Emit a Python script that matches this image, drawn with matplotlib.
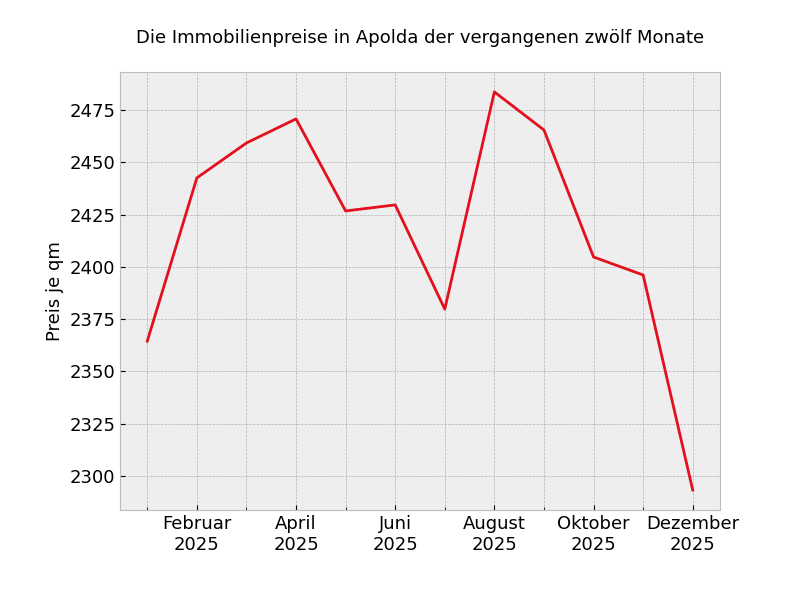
import matplotlib
matplotlib.use("Agg")
import matplotlib.pyplot as plt
from matplotlib.ticker import FixedLocator

month_labels = ["Januar\n2025", "Februar\n2025", "März\n2025", "April\n2025",
                "Mai\n2025", "Juni\n2025", "Juli\n2025", "August\n2025",
                "September\n2025", "Oktober\n2025", "November\n2025", "Dezember\n2025"]
prices = [2364.5, 2442.5, 2459.2, 2470.7, 2426.7, 2429.6,
          2379.8, 2483.6, 2465.4, 2404.7, 2396.1, 2293.3]

plt.style.use("bmh")
fig, ax = plt.subplots(figsize=(8, 6), dpi=100)
fig.subplots_adjust(left=0.15, right=0.9, bottom=0.15, top=0.88)
xs = list(range(len(prices)))
ax.plot(xs, prices, color="#e3101e", linewidth=2)

major = xs[1::2]
minor = xs[0::2]
ax.xaxis.set_major_locator(FixedLocator(major))
ax.xaxis.set_minor_locator(FixedLocator(minor))
ax.set_xticklabels([month_labels[i] for i in major])
ax.grid(True, which="major")
ax.grid(True, which="minor", axis="x", color="#b2b2b2", linestyle="--", linewidth=0.5)
ax.tick_params(axis="both", labelsize=13)
ax.set_ylabel("Preis je qm", fontsize=13)
ax.set_title("Die Immobilienpreise in Apolda der vergangenen zwölf Monate", fontsize=13, pad=21)
fig.savefig("out.png")
